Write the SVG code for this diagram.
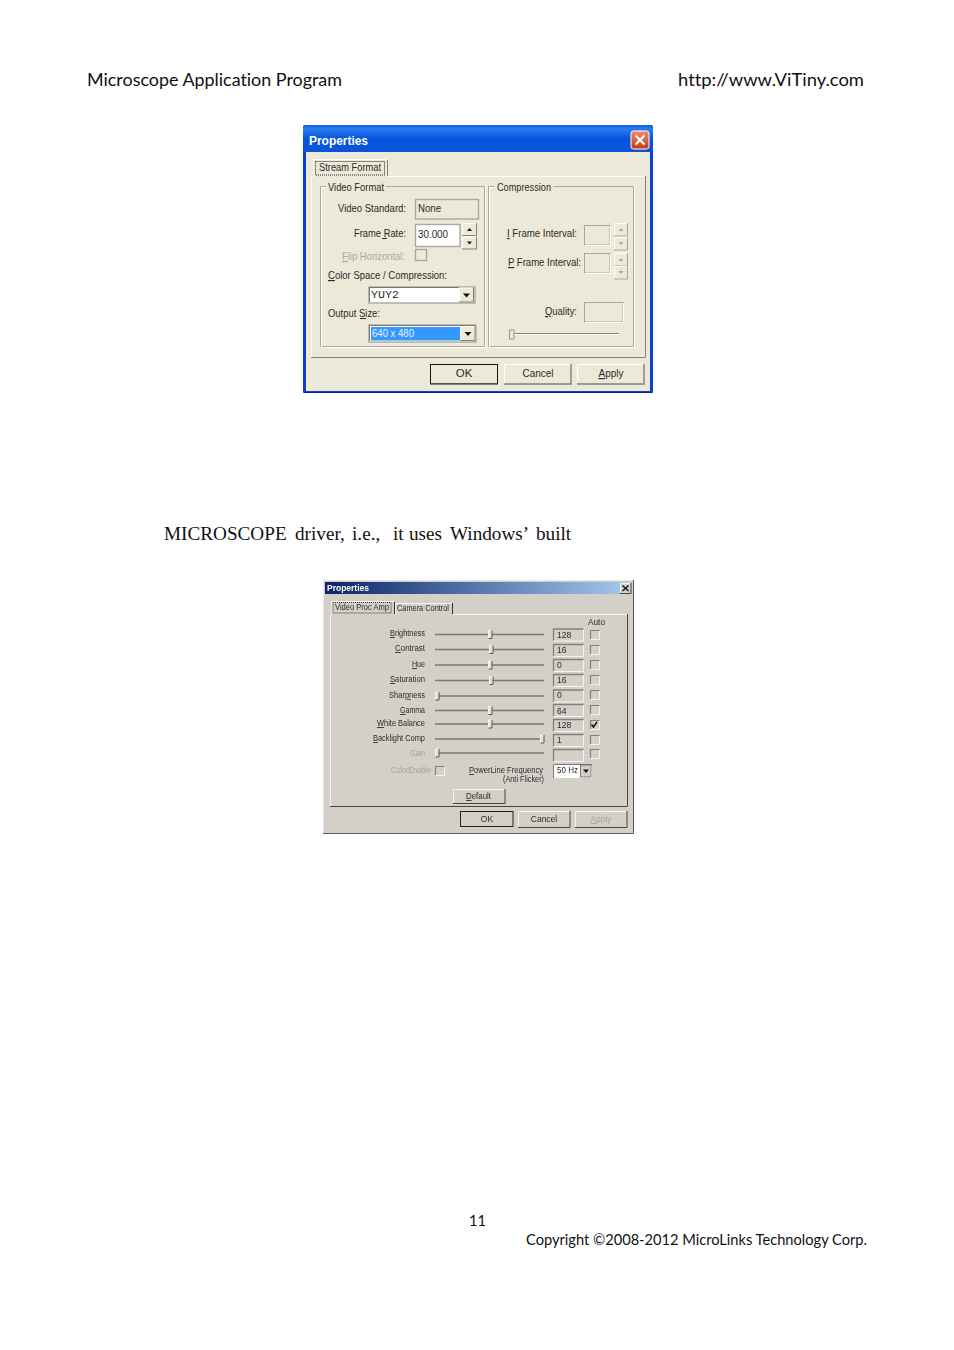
<svg xmlns="http://www.w3.org/2000/svg" width="954" height="1350" viewBox="0 0 954 1350">
<style>
text{font-family:"Liberation Sans",Arial,sans-serif;fill:#2a2a2a}
.page{font-family:Lato,"Open Sans",sans-serif;fill:#111;font-variant-ligatures:none}
.ser{font-family:"Liberation Serif","Times New Roman",serif;font-size:19.2px;fill:#111}
.d1{font-size:11.5px}
.d2{font-size:8.5px}
.gr{fill:#a9a79c}
.gr2{fill:#a5a29a}
.ttl{font-weight:bold;fill:#fff}
.u{text-decoration:underline}
.m{text-anchor:middle}
.dk{fill:none;stroke:#aca899}
.lt{fill:none;stroke:#fff}
.dk2{fill:none;stroke:#808080}
.lt2{fill:none;stroke:#f4f3f0}
.btn{fill:#ece9d8}
.btn2{fill:#d4d0c8}
.tr{fill:none;stroke:#777;stroke-width:1.6}
</style>
<defs>
<linearGradient id="xp" x1="0" y1="0" x2="0" y2="1"><stop offset="0" stop-color="#0a5fe4"/><stop offset=".15" stop-color="#2b7df0"/><stop offset=".5" stop-color="#0754dd"/><stop offset="1" stop-color="#0a55d8"/></linearGradient>
<linearGradient id="cl" x1="0" y1="0" x2="0" y2="1"><stop offset="0" stop-color="#ee8a6c"/><stop offset="1" stop-color="#c93a12"/></linearGradient>
<linearGradient id="tb2" x1="0" y1="0" x2="1" y2="0"><stop offset="0" stop-color="#0a246a"/><stop offset="1" stop-color="#a6caf0"/></linearGradient>
<filter id="soft" x="-2%" y="-2%" width="104%" height="104%"><feGaussianBlur stdDeviation="0.3"/></filter>
<g id="spA"><rect width="15" height="12.5" class="btn"/><path d="M.5 12V.5H14" class="lt"/><path d="M14.5 0V12.5H0" class="dk2"/><path d="M5 8h5l-2.500-3z" fill="#111"/></g>
<g id="spB"><rect width="15" height="12.500" class="btn"/><path d="M.5 12V.5H14" class="lt"/><path d="M14.500 0V12.500H0" class="dk2"/><path d="M5 5h5l-2.500 3z" fill="#111"/></g>
<g id="spAg"><rect width="14" height="13" class="btn"/><path d="M.5 12V.5H13" class="lt"/><path d="M13.500 0V13H0" class="dk"/><path d="M4.500 8h5l-2.500-3z" fill="#aca899"/></g>
<g id="spBg"><rect width="14" height="13" class="btn"/><path d="M.5 12V.5H13" class="lt"/><path d="M13.500 0V13H0" class="dk"/><path d="M4.500 5h5l-2.500 3z" fill="#aca899"/></g>
<g id="cbB"><rect width="15" height="15" class="btn"/><path d="M.5 14V.5H14" class="lt"/><path d="M14.500 0V14.500H0" class="dk2"/><path d="M4 6h7l-3.500 4z" fill="#111"/></g>
<g id="val"><rect width="31" height="13" class="btn2"/><path d="M.5 12.500V.5H30.500" class="dk2" stroke-width="1.300"/><path d="M.5 12.500H30.500V1" class="lt2"/></g>
<g id="chk"><rect width="9.500" height="9.500" class="btn2"/><path d="M.5 9V.5H9.500" class="dk2" stroke-width="1.200"/><path d="M.5 9.500H9.500V1" class="lt2"/></g>
<g id="th"><rect x="-1.500" y="-4" width="3.500" height="8" fill="#e4e1da"/><path d="M-1.500 4V-4H1.500" class="lt2"/><path d="M2 -4V4H-1.500" stroke="#555" fill="none"/></g>
</defs>

<rect width="954" height="1350" fill="#fff"/>

<g id="page-text">
<text class="page" x="87" y="86" font-size="18" textLength="255" lengthAdjust="spacingAndGlyphs">Microscope Application Program</text>
<text class="page" x="678" y="86" font-size="18" textLength="186" lengthAdjust="spacingAndGlyphs">http://www.ViTiny.com</text>
<text class="ser" y="540"><tspan x="164">MICROSCOPE</tspan><tspan x="295">driver,</tspan><tspan x="352">i.e.,</tspan><tspan x="393">it</tspan><tspan x="409">uses</tspan><tspan x="450">Windows’</tspan><tspan x="536">built</tspan></text>
<text class="page" x="469" y="1226" font-size="14.500">11</text>
<text class="page" x="526" y="1245" font-size="14.500" textLength="341" lengthAdjust="spacingAndGlyphs">Copyright ©2008-2012 MicroLinks Technology Corp.</text>
</g>

<g id="dialog-stream-format">
<rect x="303" y="125" width="350" height="268" rx="2" fill="#0a3fd0"/>
<rect x="303" y="125" width="350" height="27" rx="3" fill="url(#xp)"/>
<rect x="306" y="152" width="344" height="239" fill="#ece9d8"/>
<path d="M303.500 392.500H652.500" stroke="#06238f" fill="none"/>
<text class="ttl" x="309" y="145" font-size="12.500" textLength="59" lengthAdjust="spacingAndGlyphs">Properties</text>
<g id="close-1"><rect x="631" y="131" width="18" height="18" rx="2.500" fill="url(#cl)" stroke="#fff"/><path d="M635.500 135.500l9 9m0-9l-9 9" stroke="#fff" stroke-width="2.200" fill="none"/></g>

<path d="M311.500 358V176.500H313.500M387.500 176.500H645" class="lt"/>
<path d="M645.500 176V357.500H311" class="dk2"/>
<path d="M313.500 176.500V159.500H386" class="lt"/>
<path d="M387.500 160V176" class="dk2"/>
<rect x="315.500" y="161.500" width="69" height="13.500" fill="none" stroke="#222" stroke-dasharray="1 1"/>
<text class="d1" x="319" y="171" textLength="62" lengthAdjust="spacingAndGlyphs">Stream Format</text>

<path d="M326 186.500H320.500V346.500H484.500V186.500H386" class="dk"/>
<path d="M326 187.500H321.500V347.500H485.500M485.500 186V347" class="lt"/>
<text class="d1" x="328" y="191" textLength="56" lengthAdjust="spacingAndGlyphs">Video Format</text>
<path d="M495 186.500H488.500V346.500H633.500V186.500H553" class="dk"/>
<path d="M495 187.500H489.500V347.500H634.500M634.500 186V347" class="lt"/>
<text class="d1" x="497" y="191" textLength="54" lengthAdjust="spacingAndGlyphs">Compression</text>

<text class="d1" x="338" y="212" textLength="68" lengthAdjust="spacingAndGlyphs">Video Standard:</text>
<g id="video-standard"><rect x="415.500" y="199.500" width="63" height="19.500" fill="#ece9d8" stroke="#aca899" stroke-width="1.400"/><text class="d1" x="418" y="212" textLength="23" lengthAdjust="spacingAndGlyphs">None</text></g>
<text class="d1" x="354" y="237" textLength="52" lengthAdjust="spacingAndGlyphs">Frame Rate:</text>
<path d="M382 238.500H387" stroke="#2a2a2a" fill="none"/>
<g id="frame-rate"><rect x="415.500" y="224.500" width="44.500" height="22" fill="#fff" stroke="#aca899" stroke-width="1.400"/><text class="d1" x="418" y="238" textLength="30" lengthAdjust="spacingAndGlyphs">30.000</text><use href="#spA" x="462" y="223"/><use href="#spB" x="462" y="236.500"/></g>
<text class="d1 gr" x="342" y="260" textLength="63" lengthAdjust="spacingAndGlyphs"><tspan class="u">F</tspan>lip Horizontal:</text>
<g id="flip-check"><rect x="415.500" y="249.500" width="11" height="11" fill="#ece9d8" stroke="#aca899" stroke-width="1.400"/></g>
<text class="d1" x="328" y="279" textLength="119" lengthAdjust="spacingAndGlyphs"><tspan class="u">C</tspan>olor Space / Compression:</text>
<g id="color-combo"><rect x="369" y="287" width="106" height="16" fill="#fff" stroke="#aca899" stroke-width="1.400"/><path d="M369.500 302V287.500H474" stroke="#777" fill="none"/><text x="371" y="298" font-size="11.500" textLength="28" lengthAdjust="spacingAndGlyphs" style="font-family:'Liberation Mono',monospace">YUY2</text><use href="#cbB" x="459" y="287.500"/></g>
<text class="d1" x="328" y="317" textLength="52" lengthAdjust="spacingAndGlyphs">Output Size:</text>
<path d="M360 318.500H366" stroke="#2a2a2a" fill="none"/>
<g id="size-combo"><rect x="369" y="325" width="107" height="17" fill="#fff" stroke="#aca899" stroke-width="1.400"/><path d="M369.500 341V325.500H475" stroke="#777" fill="none"/><rect x="371" y="327" width="89.500" height="13.500" fill="#3399ff"/><text class="d1" x="372" y="337" style="fill:#e8f0ff" textLength="42" lengthAdjust="spacingAndGlyphs">640 x 480</text><use href="#cbB" x="460.500" y="326"/></g>

<text class="d1" x="507" y="237" textLength="70" lengthAdjust="spacingAndGlyphs"><tspan class="u">I</tspan> Frame Interval:</text>
<g id="i-frame"><rect x="584.500" y="225.500" width="25.500" height="19.500" fill="#ece9d8" stroke="#aca899"/><path d="M585 245.500H610.500V226" class="lt"/><use href="#spAg" x="614" y="223"/><use href="#spBg" x="614" y="237"/></g>
<text class="d1" x="508" y="266" textLength="73" lengthAdjust="spacingAndGlyphs"><tspan class="u">P</tspan> Frame Interval:</text>
<g id="p-frame"><rect x="584.500" y="253.500" width="25.500" height="19.500" fill="#ece9d8" stroke="#aca899"/><path d="M585 273.500H610.500V254" class="lt"/><use href="#spAg" x="614" y="253"/><use href="#spBg" x="614" y="266"/></g>
<text class="d1" x="545" y="315" textLength="32" lengthAdjust="spacingAndGlyphs"><tspan class="u">Q</tspan>uality:</text>
<g id="quality"><rect x="584.500" y="302.500" width="38.500" height="19.500" fill="#ece9d8" stroke="#aca899"/><path d="M585 322.500H623.500V303" class="lt"/></g>
<g id="quality-slider"><path d="M509 333.500H619" stroke="#8a8778" fill="none"/><path d="M509 334.500H619" class="lt"/><rect x="509.500" y="330" width="4.500" height="9" fill="#ece9d8" stroke="#9a9784"/></g>

<g id="btn-ok-1"><rect x="430.500" y="364.500" width="67" height="19.500" fill="#ece9d8" stroke="#111"/><path d="M431 383.500H497" stroke="#555" fill="none"/><text class="d1 m" x="464" y="377">OK</text></g>
<g id="btn-cancel-1"><rect x="504" y="364" width="67" height="20" class="btn"/><path d="M504.500 384V364.500H570" class="lt"/><path d="M571 364V384H504" class="dk2" stroke-width="1.400"/><text class="d1" x="522.500" y="377" textLength="31" lengthAdjust="spacingAndGlyphs">Cancel</text></g>
<g id="btn-apply-1"><rect x="577" y="364" width="67" height="20" class="btn"/><path d="M577.500 384V364.500H643" class="lt"/><path d="M644 364V384H577" class="dk2" stroke-width="1.400"/><text class="d1" x="598.500" y="377" textLength="25" lengthAdjust="spacingAndGlyphs"><tspan class="u">A</tspan>pply</text></g>
</g>

<g id="dialog-video-proc-amp" filter="url(#soft)">
<rect x="323" y="580" width="311" height="254" fill="#d4d0c8"/>
<path d="M323.500 834V580.500H634" stroke="#e8e6e0" fill="none"/>
<path d="M633.500 580V833.500H323" stroke="#5a5a5a" fill="none"/>
<rect x="325" y="582" width="307" height="12" fill="url(#tb2)"/>
<text class="ttl" x="327" y="591" font-size="8.500" textLength="42" lengthAdjust="spacingAndGlyphs">Properties</text>
<g id="close-2"><rect x="620" y="583" width="11" height="10" fill="#d4d0c8"/><path d="M620.500 593V583.500H631" class="lt2"/><path d="M631 583V593.500H620" stroke="#444" fill="none"/><path d="M622.500 585.500l6 5.500m0-5.500l-6 5.500" stroke="#111" stroke-width="1.300" fill="none"/></g>

<path d="M330.500 806V614.500H331M453 614.500H627" class="lt2"/>
<path d="M627.500 614V806.500H330" stroke="#444" fill="none"/>
<path d="M331.500 614V601.500H394M395.500 614V603.500H452" class="lt2"/>
<path d="M394.500 602V614M452.500 603V614" stroke="#333" fill="none"/>
<rect x="333" y="602.500" width="58" height="10.500" fill="none" stroke="#333" stroke-dasharray="1 1"/>
<text class="d2" x="335" y="610" textLength="54" lengthAdjust="spacingAndGlyphs">Video Proc Amp</text>
<text class="d2" x="397" y="611" textLength="52" lengthAdjust="spacingAndGlyphs">Camera Control</text>
<text class="d2" x="588" y="625" textLength="17" lengthAdjust="spacingAndGlyphs">Auto</text>

<g id="row-brightness"><text class="d2" x="390" y="636" textLength="35" lengthAdjust="spacingAndGlyphs"><tspan class="u">B</tspan>rightness</text><path class="tr" d="M435 634.500H544"/><use href="#th" x="490" y="634.500"/><use href="#val" x="553" y="628.500"/><text class="d2" x="557" y="638">128</text><use href="#chk" x="590" y="630"/></g>
<g id="row-contrast"><text class="d2" x="395" y="651" textLength="30" lengthAdjust="spacingAndGlyphs"><tspan class="u">C</tspan>ontrast</text><path class="tr" d="M435 649.500H544"/><use href="#th" x="491" y="649.500"/><use href="#val" x="553" y="644"/><text class="d2" x="557" y="653">16</text><use href="#chk" x="590" y="645"/></g>
<g id="row-hue"><text class="d2" x="412" y="667" textLength="13" lengthAdjust="spacingAndGlyphs"><tspan class="u">H</tspan>ue</text><path class="tr" d="M435 665H544"/><use href="#th" x="490" y="665"/><use href="#val" x="553" y="659"/><text class="d2" x="557" y="668">0</text><use href="#chk" x="590" y="660"/></g>
<g id="row-saturation"><text class="d2" x="390" y="682" textLength="35" lengthAdjust="spacingAndGlyphs"><tspan class="u">S</tspan>aturation</text><path class="tr" d="M435 680.500H544"/><use href="#th" x="491" y="680.500"/><use href="#val" x="553" y="674"/><text class="d2" x="557" y="683">16</text><use href="#chk" x="590" y="675"/></g>
<g id="row-sharpness"><text class="d2" x="389" y="698" textLength="36" lengthAdjust="spacingAndGlyphs">Sharpness</text><path d="M407 699.500H411" stroke="#2a2a2a" stroke-width=".7" fill="none"/><path class="tr" d="M435 696H544"/><use href="#th" x="437" y="696"/><use href="#val" x="553" y="689.500"/><text class="d2" x="557" y="698">0</text><use href="#chk" x="590" y="690"/></g>
<g id="row-gamma"><text class="d2" x="400" y="713" textLength="25" lengthAdjust="spacingAndGlyphs"><tspan class="u">G</tspan>amma</text><path class="tr" d="M435 710.500H544"/><use href="#th" x="490" y="710.500"/><use href="#val" x="553" y="704"/><text class="d2" x="557" y="714">64</text><use href="#chk" x="590" y="705"/></g>
<g id="row-white-balance"><text class="d2" x="377" y="726" textLength="48" lengthAdjust="spacingAndGlyphs"><tspan class="u">W</tspan>hite Balance</text><path class="tr" d="M435 724H544"/><use href="#th" x="490" y="724"/><use href="#val" x="553" y="719"/><text class="d2" x="557" y="728">128</text><use href="#chk" x="590" y="720"/><path d="M591.500 724.500l2 2.500 3.500-5" stroke="#111" stroke-width="1.500" fill="none"/></g>
<g id="row-backlight"><text class="d2" x="373" y="741" textLength="52" lengthAdjust="spacingAndGlyphs"><tspan class="u">B</tspan>acklight Comp</text><path class="tr" d="M435 739H544"/><use href="#th" x="542" y="739"/><use href="#val" x="553" y="734"/><text class="d2" x="557" y="743">1</text><use href="#chk" x="590" y="735"/></g>
<g id="row-gain"><text class="d2 gr2" x="410" y="756" textLength="15" lengthAdjust="spacingAndGlyphs">Gain</text><path class="tr" d="M435 753H544"/><use href="#th" x="437" y="753"/><use href="#val" x="553" y="749"/><use href="#chk" x="590" y="749"/></g>

<text class="d2 gr2" x="391" y="773" textLength="40" lengthAdjust="spacingAndGlyphs">ColorEnable</text>
<use href="#chk" x="435" y="766"/>
<text class="d2" x="469" y="773" textLength="74" lengthAdjust="spacingAndGlyphs"><tspan class="u">P</tspan>owerLine Frequency</text>
<text class="d2" x="503" y="782" textLength="41" lengthAdjust="spacingAndGlyphs">(Anti Flicker)</text>
<g id="power-combo"><rect x="553" y="764" width="39" height="14" fill="#fff"/><path d="M553.500 778V764.500H592" stroke="#777" fill="none"/><text class="d2" x="557" y="773" textLength="21" lengthAdjust="spacingAndGlyphs">50 Hz</text><rect x="580.500" y="765" width="10.500" height="12" class="btn2" stroke="#666" stroke-width=".8"/><path d="M583 769.500h6l-3 3.500z" fill="#111"/></g>

<g id="btn-default"><rect x="453" y="789" width="52" height="14" class="btn2"/><path d="M453.500 803V789.500H505" class="lt2"/><path d="M505 789V803.500H453" stroke="#444" fill="none"/><text class="d2" x="466" y="799" textLength="25" lengthAdjust="spacingAndGlyphs"><tspan class="u">D</tspan>efault</text></g>
<g id="btn-ok-2"><rect x="460.500" y="811.500" width="52.500" height="15" class="btn2" stroke="#222"/><text class="d2 m" x="487" y="822">OK</text></g>
<g id="btn-cancel-2"><rect x="518" y="811" width="52" height="16" class="btn2"/><path d="M518.500 827V811.500H570" class="lt2"/><path d="M570 811V827.500H518" stroke="#444" fill="none"/><text class="d2 m" x="544" y="822">Cancel</text></g>
<g id="btn-apply-2"><rect x="575" y="811" width="52" height="16" class="btn2"/><path d="M575.500 827V811.500H627" class="lt2"/><path d="M627 811V827.500H575" stroke="#444" fill="none"/><text class="d2 m gr2" x="601" y="822"><tspan class="u">A</tspan>pply</text></g>
</g>
</svg>
